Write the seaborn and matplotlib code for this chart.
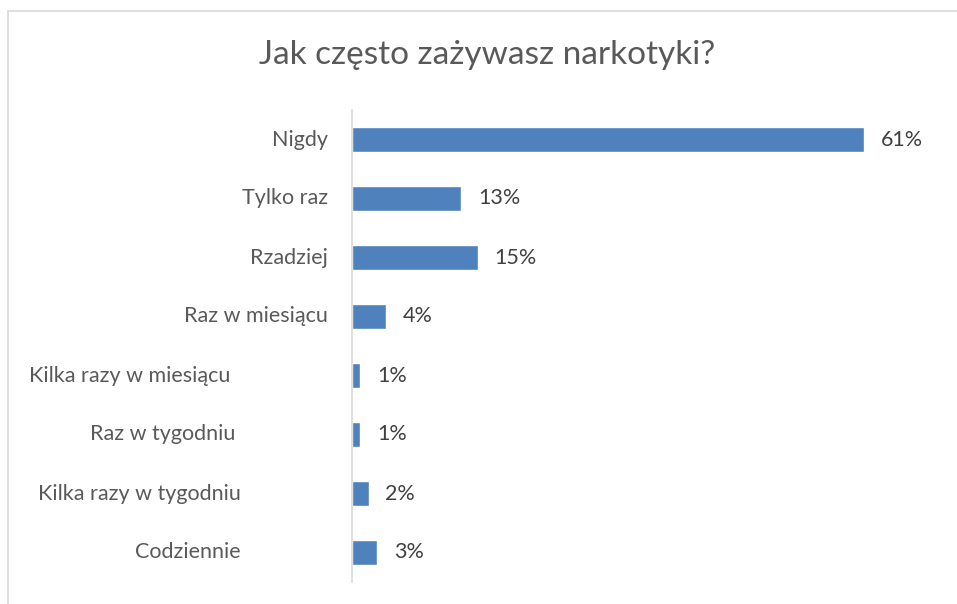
import numpy as np
import pandas as pd
import seaborn as sns
import matplotlib.pyplot as plt
from matplotlib.transforms import ScaledTranslation
from matplotlib.lines import Line2D

# data
categories = ["Nigdy", "Tylko raz", "Rzadziej", "Raz w miesiącu",
              "Kilka razy w miesiącu", "Raz w tygodniu",
              "Kilka razy w tygodniu", "Codziennie"]
percent = [61, 13, 15, 4, 1, 1, 2, 3]
title = "Jak często zażywasz narkotyki?"

# extra left shift (px) of some category labels, as in the original render
label_shift_px = [0, 0, 0, 0, 98, 93, 87, 87]

df = pd.DataFrame({"kategoria": categories, "procent": percent})

sns.set_style("white")
plt.rcParams['font.family'] = ['Lato', 'DejaVu Sans']

fig = plt.figure(figsize=(9.57, 6.04), dpi=100)
ax = fig.add_axes([352/957, 1 - 582/604, (940 - 352)/957, (582 - 110)/604])

sns.barplot(data=df, x="procent", y="kategoria", orient="h",
            color="#4f81bd", saturation=1, width=0.41, ax=ax)

ax.set_xlim(0, 70)
ax.set_ylim(7.5, -0.5)
ax.set_xlabel("")
ax.set_ylabel("")
ax.set_xticks([])
ax.set_yticks([])
for s in ["top", "right", "bottom"]:
    ax.spines[s].set_visible(False)
ax.spines["left"].set_color("#d9d9d9")
ax.spines["left"].set_linewidth(1.2)

# category labels
for i, (cat, sh) in enumerate(zip(categories, label_shift_px)):
    tr = ax.get_yaxis_transform() + ScaledTranslation(-(24 + sh)/100, 0, fig.dpi_scale_trans)
    ax.text(0, i, cat, transform=tr, ha="right", va="center",
            fontsize=15.5, color="#595959")

# value labels
ax.bar_label(ax.containers[0], labels=[f"{v}%" for v in percent],
             padding=12, fontsize=15.5, color="#404040")

fig.text(487/957, 1 - 55/604, title, ha="center", va="center",
         fontsize=24, color="#595959")

# chart border
fig.add_artist(Line2D([8/957, 1], [1 - 11/604, 1 - 11/604], color="#d9d9d9", lw=1.2))
fig.add_artist(Line2D([8/957, 8/957], [0, 1 - 11/604], color="#d9d9d9", lw=1.2))

fig.savefig("out.png", dpi=100)
